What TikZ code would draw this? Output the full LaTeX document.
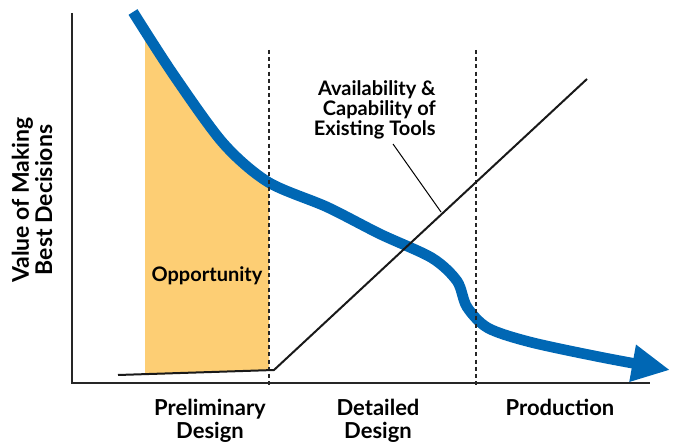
\documentclass[tikz,border=0pt]{standalone}
\usepackage{fontspec}
\setmainfont{Lato}
\usetikzlibrary{arrows.meta}
\definecolor{curveblue}{HTML}{0067B4}
\definecolor{oppfill}{HTML}{FDCE74}
\tikzset{
  axisline/.style={line width=1.4pt, black!85},
  phaseline/.style={line width=1.2pt, black!85, dash pattern=on 2pt off 1.6pt},
  toolline/.style={line width=1pt, black!90},
  valuecurve/.style={line width=5.3pt, curveblue, line join=round},
  phasetext/.style={font=\bfseries\fontsize{11}{11.5}\selectfont, align=center, inner sep=0pt},
  smalltext/.style={font=\bfseries\fontsize{10}{10}\selectfont, inner sep=0pt}
}
\begin{document}
\begin{tikzpicture}[x=0.5pt,y=-0.5pt]
  \useasboundingbox (0,0) rectangle (673,442);

  % Fill opportunity area under the curve
  \begin{scope}
    \clip (145,0) -- (269,0) -- (269,370) -- (145,375) -- cycle;
    \fill[oppfill] plot[smooth] coordinates {(133,12) (173,74) (223,143) (268,182) (327,207) (380,234) (432,258) (457,281) (467,307) (488,328) (530,342) (600,357) (670,370)}
      -- (673,442) -- (0,442) -- cycle;
  \end{scope}

  %Draw value curve with arrow
  \draw[valuecurve, -{Triangle[length=19pt, width=17.5pt]}] plot[smooth] coordinates {(133,12) (173,74) (223,143) (268,182) (327,207) (380,234) (432,258) (457,281) (467,307) (488,328) (530,342) (600,357) (670,370)};

  %Draw axes
  \coordinate (ytop) at (72,13);
  \coordinate (origin) at (72,383);
  \coordinate (xend) at (650,383);
  \draw[axisline] (ytop) -- (origin) -- (xend);

  % Draw dashed phase boundaries
  \coordinate (prelimtop) at (269,50);
  \coordinate (prelimbot) at (269,386);
  \coordinate (detailtop) at (476,50);
  \coordinate (detailbot) at (476,386);
  \draw[phaseline] (prelimtop) -- (prelimbot);
  \draw[phaseline] (detailtop) -- (detailbot);

  %Draw tools line
  \coordinate (toolstart) at (118,375);
  \coordinate (toolkink) at (274,370);
  \coordinate (toolend) at (587,79);
  \draw[toolline] (toolstart) -- (toolkink) -- (toolend);

  %Labels
  \node[smalltext, align=right, anchor=north east] (tools) at (436,80)
    {Availability \&\\Capability of\\Existing Tools};
  \coordinate (leadtop) at (393,144);
  \coordinate (leadend) at (441,212);
  \draw[line width=0.5pt] (leadtop) -- (leadend);

  \node[smalltext, anchor=base] (opp) at (207,282) {Opportunity};

  \node[phasetext, rotate=90, font=\bfseries\fontsize{11.5}{10.5}\selectfont] (ylabel) at (32,200)
    {Value of Making\\Best Decisions};

  \node[phasetext, anchor=north] (prelim) at (210,399) {Preliminary\\Design};
  \node[phasetext, anchor=north] (detail) at (378,399) {Detailed\\Design};
  \node[phasetext, anchor=north] (prod) at (560,399) {Production};
\end{tikzpicture}
\end{document}
